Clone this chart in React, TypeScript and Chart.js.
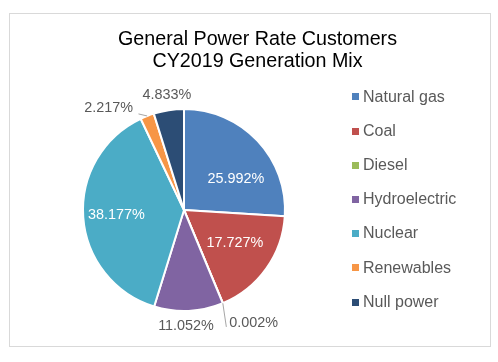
import React, { useEffect, useRef } from 'react';
import { Chart, registerables } from 'chart.js';

Chart.register(...registerables);

const categories = ['Natural gas', 'Coal', 'Diesel', 'Hydroelectric', 'Nuclear', 'Renewables', 'Null power'];
const shares = [25.992, 17.727, 0.002, 11.052, 38.177, 2.217, 4.833];
const sliceColors = ['#4F81BD', '#C0504D', '#9BBB59', '#8064A2', '#4BACC6', '#F79646', '#2C4D75'];
const titleLines = ['General Power Rate Customers', 'CY2019 Generation Mix'];

const FONT = '"Liberation Sans", Arial, sans-serif';

// label placement style per slice: inside/outside, radial distance, angular nudge (deg), leader line
const labelStyle = [
  { inside: true, rf: 0.6, shift: 12 },
  { inside: true, rf: 0.6, shift: -2.5 },
  { inside: false, dist: 31.7, shift: -9.1, leader: true },
  { inside: false, dist: 15, shift: 1.7 },
  { inside: true, rf: 0.67, shift: 0 },
  { inside: false, dist: 25.5, shift: -15.2, leader: true },
  { inside: false, dist: 15.5, shift: 0.3 },
];

const fmt = (v: number) => v.toFixed(3) + '%';

const decorPlugin = {
  id: 'decor',
  beforeDraw(chart: any) {
    const ctx = chart.ctx;
    ctx.save();
    ctx.fillStyle = '#ffffff';
    ctx.fillRect(0, 0, chart.width, chart.height);
    ctx.strokeStyle = '#d9d9d9';
    ctx.lineWidth = 1;
    ctx.strokeRect(9.5, 13.5, 481, 333);
    ctx.fillStyle = '#000000';
    ctx.font = `19.7px ${FONT}`;
    ctx.textAlign = 'center';
    ctx.textBaseline = 'alphabetic';
    ctx.fillText(titleLines[0], 257.5, 44.5);
    ctx.fillText(titleLines[1], 257.5, 67);
    ctx.restore();
  },
  afterDraw(chart: any) {
    const ctx = chart.ctx;
    const ds = chart.data.datasets[0];
    ctx.save();
    // legend
    ctx.font = `16px ${FONT}`;
    ctx.textAlign = 'left';
    ctx.textBaseline = 'middle';
    chart.data.labels.forEach((lab: string, i: number) => {
      const y = 96.8 + i * 34.2;
      ctx.fillStyle = ds.backgroundColor[i];
      ctx.fillRect(352, Math.round(y - 3.5), 7, 7);
      ctx.fillStyle = '#595959';
      ctx.fillText(lab, 363, y + 0.3);
    });
    // data labels
    const meta = chart.getDatasetMeta(0);
    ctx.font = `14.4px ${FONT}`;
    meta.data.forEach((arc: any, i: number) => {
      const st = labelStyle[i];
      const { x, y, startAngle, endAngle, outerRadius } = arc.getProps(['x', 'y', 'startAngle', 'endAngle', 'outerRadius'], true);
      const mid = (startAngle + endAngle) / 2;
      const a = mid + (st.shift * Math.PI) / 180;
      const r = st.inside ? outerRadius * (st.rf as number) : outerRadius + (st.dist as number);
      const tx = x + Math.cos(a) * r;
      const ty = y + Math.sin(a) * r;
      const text = fmt(ds.data[i]);
      const w = ctx.measureText(text).width;
      if (st.leader) {
        const ex = x + Math.cos(mid) * outerRadius;
        const ey = y + Math.sin(mid) * outerRadius;
        const left = tx < x;
        const lx = left ? tx + w / 2 + 5.5 : tx - w / 2 - 3;
        const ly = left ? ty + 5.5 : ty + 4;
        ctx.strokeStyle = '#a6a6a6';
        ctx.lineWidth = 1;
        ctx.beginPath();
        ctx.moveTo(ex, ey);
        ctx.lineTo(lx, ly);
        ctx.stroke();
      }
      ctx.fillStyle = st.inside ? '#ffffff' : '#595959';
      ctx.textAlign = 'center';
      ctx.textBaseline = 'middle';
      ctx.fillText(text, tx, ty);
    });
    ctx.restore();
  },
};

export default function App() {
  const ref = useRef<HTMLCanvasElement | null>(null);
  useEffect(() => {
    if (!ref.current) return;
    const chart = new Chart(ref.current, {
      type: 'pie',
      data: {
        labels: categories,
        datasets: [
          {
            data: shares,
            backgroundColor: sliceColors,
            borderColor: '#ffffff',
            borderWidth: 2,
          },
        ],
      },
      options: {
        responsive: false,
        animation: false,
        layout: { padding: { left: 82, right: 212, top: 108, bottom: 50 } },
        plugins: {
          legend: { display: false },
          title: { display: false },
          tooltip: { enabled: false },
        },
      },
      plugins: [decorPlugin],
    });
    return () => chart.destroy();
  }, []);
  return (
    <div style={{ position: 'fixed', left: 0, top: 0, width: 498, height: 362, background: '#fff' }}>
      <canvas ref={ref} width={498} height={362} style={{ display: 'block' }} />
    </div>
  );
}
